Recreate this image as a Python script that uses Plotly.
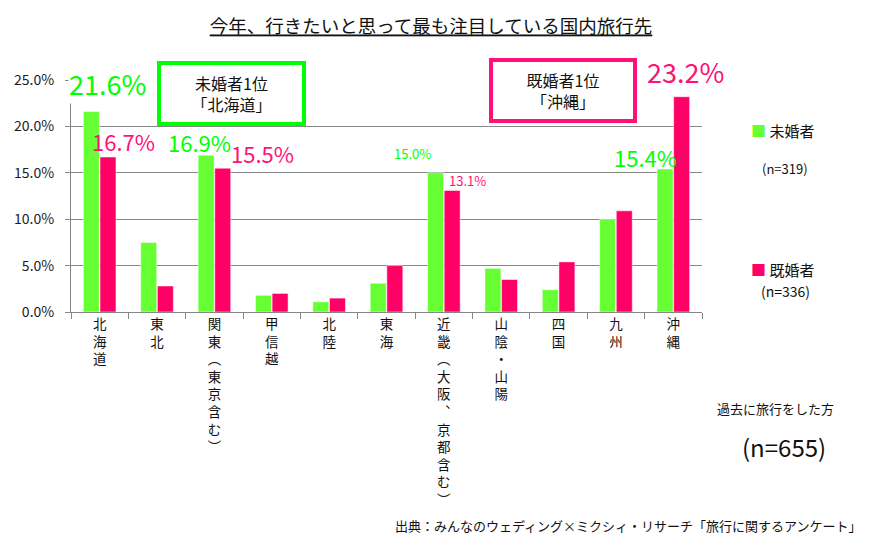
import plotly.graph_objects as go

# data
regions = ['北海道', '東北', '関東︵東京含む︶', '甲信越', '北陸', '東海',
           '近畿︵大阪︑京都含む︶', '山陰・山陽', '四国', '九州', '沖縄']
unmarried = [21.6, 7.5, 16.9, 1.8, 1.1, 3.1, 15.0, 4.7, 2.4, 10.0, 15.4]
married = [16.7, 2.8, 15.5, 2.0, 1.5, 5.0, 13.1, 3.5, 5.4, 10.9, 23.2]
y_ticks = [0, 5, 10, 15, 20, 25]

GREEN = '#66FF33'
PINK = '#FF0066'
GREEN_TXT = '#00FF00'
PINK_TXT = '#FF1177'
FONT = 'Noto Sans CJK JP'

# plot area in pixels (used to place the free-floating notes)
L, R, T, B = 71, 702, 80, 312


def px(x):
    return (x - L) / (R - L)


def py(y):
    return (B - y) / (B - T)


# vertical tick text: one character per line
tick_text = ['<br>'.join(list(r)) for r in regions]

fig = go.Figure()
fig.add_trace(go.Bar(x=regions, y=unmarried, name='未婚者',
                     marker=dict(color=GREEN, line=dict(color='white', width=0.5))))
fig.add_trace(go.Bar(x=regions, y=married, name='既婚者',
                     marker=dict(color=PINK, line=dict(color='white', width=0.5))))

# the two callout boxes
fig.add_annotation(xref='paper', yref='paper', x=px(231), y=py(93),
                   xanchor='center', yanchor='middle',
                   text='未婚者1位<br>「北海道」', showarrow=False,
                   font=dict(size=16, color='#111', family=FONT),
                   bgcolor='white', bordercolor=GREEN_TXT, borderwidth=4,
                   width=141, height=57, borderpad=0)
fig.add_annotation(xref='paper', yref='paper', x=px(563), y=py(90),
                   xanchor='center', yanchor='middle',
                   text='既婚者1位<br>「沖縄」', showarrow=False,
                   font=dict(size=16, color='#111', family=FONT),
                   bgcolor='white', bordercolor=PINK_TXT, borderwidth=4,
                   width=140, height=57, borderpad=0)

# value labels: (series index, category index, font size, xshift, yshift)
labels = [
    (0, 0, 27, 8, 28),
    (1, 0, 22, 24, 16),
    (0, 2, 22, -15, 13),
    (1, 2, 22, 48, 15),
    (0, 6, 13, -31, 19),
    (1, 6, 13, 24, 10),
    (0, 10, 22, -28, 12),
    (1, 10, 27, 12, 25),
]
for s, i, size, dx, dy in labels:
    vals = unmarried if s == 0 else married
    fig.add_annotation(x=regions[i], y=vals[i], text=f'{vals[i]:.1f}%',
                       showarrow=False, xshift=dx, yshift=dy,
                       xanchor='center', yanchor='middle',
                       bgcolor='white' if (s, i) == (0, 0) else 'rgba(0,0,0,0)', borderpad=0,
                       font=dict(size=size, color=GREEN_TXT if s == 0 else PINK_TXT, family=FONT))

# legend-like notes on the right
notes = [
    (f'<span style="color:{GREEN}">■</span> 未婚者', 783, 130, 15),
    ('(n=319)', 785, 168, 13),
    (f'<span style="color:{PINK}">■</span> 既婚者', 783, 269, 15),
    ('(n=336)', 785, 291, 14),
    ('過去に旅行をした方', 775, 408, 13),
    ('(n=655)', 784, 446, 24),
]
for txt, x0, y0, size in notes:
    fig.add_annotation(xref='paper', yref='paper', x=px(x0), y=py(y0),
                       text=txt, showarrow=False, xanchor='center', yanchor='middle',
                       font=dict(size=size, color='#111', family=FONT))

fig.add_annotation(xref='paper', yref='paper', x=px(864), y=py(525),
                   text='出典：みんなのウェディング×ミクシィ・リサーチ「旅行に関するアンケート」',
                   showarrow=False, xanchor='right', yanchor='middle',
                   font=dict(size=13, color='#111', family=FONT))

fig.update_layout(
    width=872, height=536,
    margin=dict(l=L, r=872 - R, t=T, b=536 - B, autoexpand=False),
    paper_bgcolor='white', plot_bgcolor='white',
    showlegend=False,
    barmode='group', bargap=0.42, bargroupgap=0.04,
    title=dict(text='<u>今年、行きたいと思って最も注目している国内旅行先</u>',
               x=431 / 872, xanchor='center', y=1 - 27 / 536, yanchor='middle',
               font=dict(size=18.5, color='#111', family=FONT)),
    font=dict(family=FONT, color='#111'),
)
# fixed category range so the value labels do not widen the axis
fig.update_xaxes(range=[-0.5, len(regions) - 0.5],
                 tickvals=regions, ticktext=tick_text, tickangle=0, automargin=False,
                 ticks='outside', tickson='boundaries', ticklen=6, tickcolor='#868686',
                 showline=True, linecolor='#868686', linewidth=1,
                 tickfont=dict(size=13.5, color='#111', family=FONT))
fig.update_yaxes(range=[0, 25], tickvals=y_ticks, ticktext=[f'{v:.1f}%' for v in y_ticks],
                 automargin=False,
                 showgrid=True, gridcolor='#868686', gridwidth=1, zeroline=False,
                 showline=True, linecolor='#868686', linewidth=1, ticks='outside',
                 ticklen=5, tickcolor='#868686', ticklabelstandoff=8,
                 tickfont=dict(size=14, color='#1a1a2a', family=FONT))

# drop the page's default body margin so the figure sits at the window's corner
fig.write_html('out.html', config={'displayModeBar': False},
               post_script="document.body.style.margin='0';")
